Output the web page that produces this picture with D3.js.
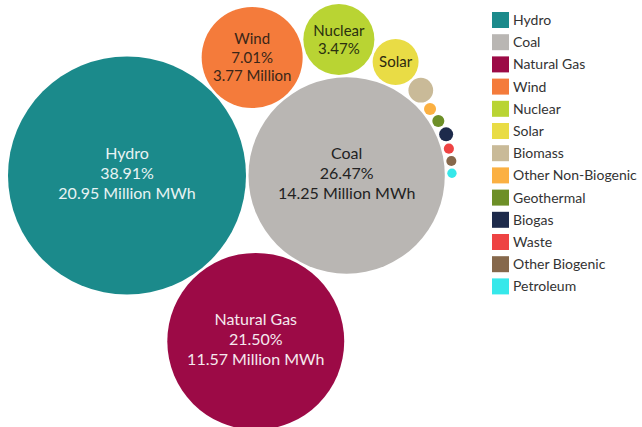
<!DOCTYPE html>
<html>
<head>
<meta charset="utf-8">
<script src="https://cdn.jsdelivr.net/npm/d3@7"></script>
<style>
body { margin: 0; background: #fff; }
svg { display: block; font-family: Lato, "Open Sans", sans-serif; }
</style>
</head>
<body>
<svg id="chart" width="642" height="427"></svg>
<script>
// generation by source
var sources = ["Hydro", "Coal", "Natural Gas", "Wind", "Nuclear", "Solar", "Biomass",
  "Other Non-Biogenic", "Geothermal", "Biogas", "Waste", "Other Biogenic", "Petroleum"];
var shares = [38.91, 26.47, 21.50, 7.01, 3.47, 1.45, 0.42, 0.10, 0.10, 0.135, 0.07, 0.07, 0.06];
var millionMWh = [20.95, 14.25, 11.57, 3.77, 1.87, 0.78, 0.23, 0.05, 0.05, 0.07, 0.04, 0.04, 0.03];
var unitText = ["Million MWh", "Million MWh", "Million MWh", "Million", "", "", "", "", "", "", "", "", ""];
var labelLines = [3, 3, 3, 3, 2, 1, 0, 0, 0, 0, 0, 0, 0];
var colors = ["#1b8a8b", "#b9b6b3", "#9c0a46", "#f47b3b", "#b9d433", "#e9dc45", "#c9ba98",
  "#fbb042", "#6d8f27", "#1d2a4b", "#ee4343", "#86684b", "#36e8ea"];
var textColors = ["#e8f3f3", "#222", "#f5e9ee", "#3a2618", "#2a3010", "#2e2a10"];

var svg = d3.select("#chart");
var pad = 2.5;

var rScale = d3.scaleSqrt().domain([0, d3.max(shares)]).range([0, 119]);

var nodes = sources.map(function(s, i) {
  return { name: s, i: i, r: rScale(shares[i]) };
});

// two spots where circle of radius r touches both a and b
function touching(a, b, r) {
  var dx = b.x - a.x, dy = b.y - a.y, d = Math.sqrt(dx * dx + dy * dy);
  var ra = a.r + r + pad, rb = b.r + r + pad;
  var x = (d * d + ra * ra - rb * rb) / (2 * d);
  var h = Math.sqrt(Math.max(0, ra * ra - x * x));
  var ux = dx / d, uy = dy / d;
  return [
    { x: a.x + x * ux - h * uy, y: a.y + x * uy + h * ux },
    { x: a.x + x * ux + h * uy, y: a.y + x * uy - h * ux }
  ];
}

// hydro, coal on its right, gas under both, wind over both,
// then the rest run clockwise round coal
var hydro = nodes[0], coal = nodes[1];
hydro.x = 0; hydro.y = 0;
coal.x = hydro.r + coal.r + pad; coal.y = 0;
var c = touching(hydro, coal, nodes[2].r);
Object.assign(nodes[2], c[0].y > c[1].y ? c[0] : c[1]);
c = touching(hydro, coal, nodes[3].r);
Object.assign(nodes[3], c[0].y < c[1].y ? c[0] : c[1]);
for (var i = 4; i < nodes.length; i++) {
  c = touching(nodes[i - 1], coal, nodes[i].r);
  var ang = c.map(function(p) { return Math.atan2(p.y - coal.y, p.x - coal.x); });
  Object.assign(nodes[i], ang[0] > ang[1] ? c[0] : c[1]);
}

var minX = d3.min(nodes, function(d) { return d.x - d.r; });
var minY = d3.min(nodes, function(d) { return d.y - d.r; });

var g = svg.append("g")
  .attr("transform", "translate(" + (8 - minX) + "," + (4 - minY) + ")");

var bubble = g.selectAll(".bubble")
  .data(nodes)
  .enter().append("g")
  .attr("class", "bubble")
  .attr("transform", function(d) { return "translate(" + d.x + "," + d.y + ")"; });

bubble.append("circle")
  .attr("r", function(d) { return d.r; })
  .attr("fill", function(d) { return colors[d.i]; });

bubble.each(function(d) {
  var n = labelLines[d.i];
  if (!n) return;
  var lines = [d.name, shares[d.i].toFixed(2) + "%", millionMWh[d.i].toFixed(2) + " " + unitText[d.i]].slice(0, n);
  var fs = d.i < 3 ? 16 : 15;
  var lh = d.i < 3 ? 20 : 18.5;
  d3.select(this).selectAll("text")
    .data(lines)
    .enter().append("text")
    .attr("text-anchor", "middle")
    .attr("y", function(t, k) { return (k - (lines.length - 1) / 2) * lh - (d.i < 3 ? 2 : 0); })
    .attr("dy", "0.35em")
    .attr("font-size", fs)
    .attr("fill", textColors[d.i])
    .text(function(t) { return t; });
});

// legend
var legend = svg.append("g").attr("transform", "translate(492,12)");
var ly = d3.scaleBand().domain(sources).range([0, 22.2 * sources.length]);

var item = legend.selectAll(".item")
  .data(sources)
  .enter().append("g")
  .attr("class", "item")
  .attr("transform", function(d) { return "translate(0," + ly(d) + ")"; });

item.append("rect")
  .attr("width", 17)
  .attr("height", 16)
  .attr("fill", function(d, i) { return colors[i]; });

item.append("text")
  .attr("x", 21)
  .attr("y", 8)
  .attr("dy", "0.35em")
  .attr("font-size", 14)
  .attr("fill", "#333")
  .text(function(d) { return d; });
</script>
</body>
</html>
